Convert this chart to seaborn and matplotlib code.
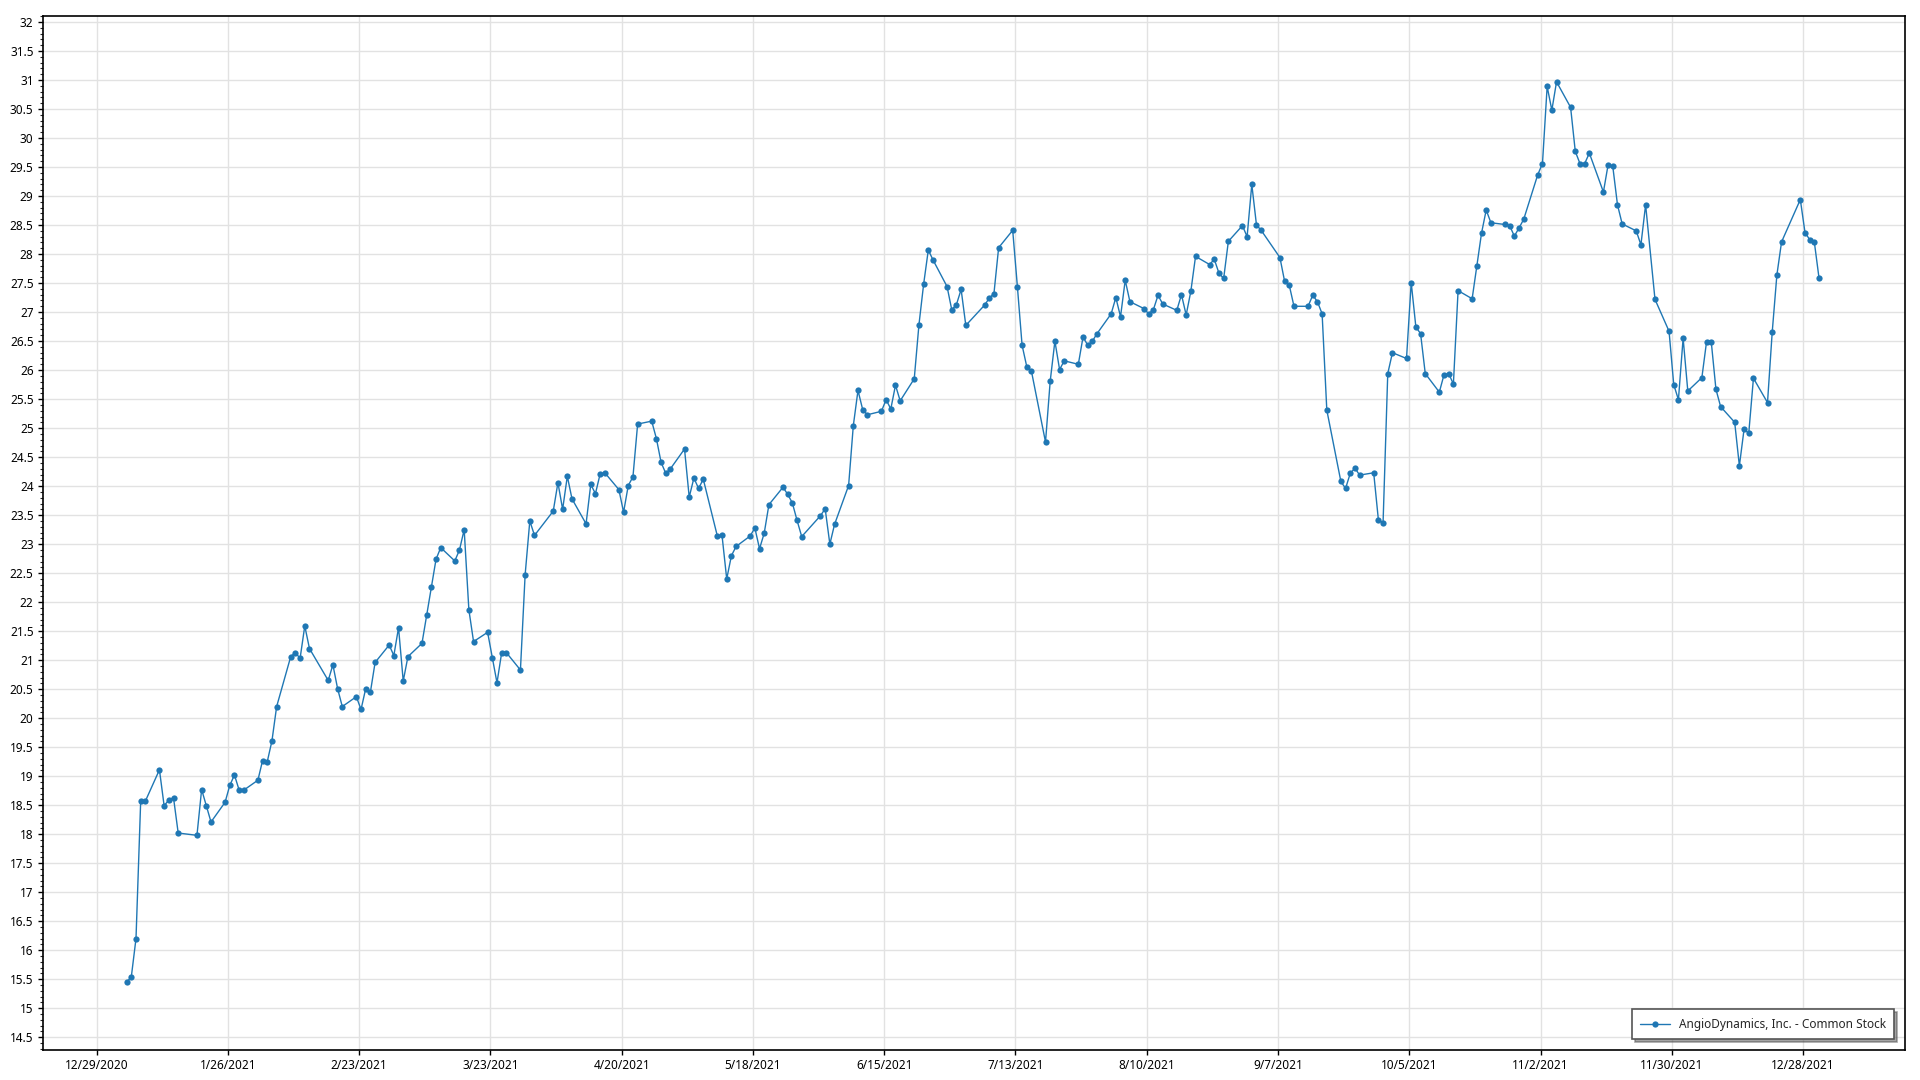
import pandas as pd
import numpy as np
import matplotlib
matplotlib.use('Agg')
import matplotlib.pyplot as plt
import matplotlib.ticker as mticker
import seaborn as sns

# closing prices per trading day, 2021
jan = [15.45, 15.54, 16.20, 18.57, 18.57, 19.11, 18.49, 18.59, 18.63, 18.02,
       17.98, 18.77, 18.49, 18.21, 18.55, 18.84, 19.02, 18.76, 18.76]
feb = [18.93, 19.27, 19.25, 19.61, 20.20, 21.06, 21.13, 21.03, 21.59, 21.20,
       20.65, 20.92, 20.51, 20.20, 20.37, 20.15, 20.51, 20.45, 20.96]
mar = [21.26, 21.08, 21.56, 20.64, 21.06, 21.29, 21.77, 22.26, 22.74, 22.94,
       22.71, 22.90, 23.25, 21.87, 21.32, 21.48, 21.04, 20.61, 21.13, 21.13,
       20.83, 22.47, 23.40]
apr = [23.15, 23.57, 24.06, 23.60, 24.17, 23.78, 23.35, 24.03, 23.87, 24.21,
       24.23, 23.94, 23.55, 24.01, 24.16, 25.07, 25.12, 24.82, 24.41, 24.22,
       24.30]
may = [24.64, 23.81, 24.14, 23.96, 24.12, 23.14, 23.15, 22.40, 22.80, 22.96,
       23.14, 23.28, 22.92, 23.19, 23.68, 23.98, 23.86, 23.71, 23.41, 23.13]
jun = [23.49, 23.61, 23.00, 23.34, 24.01, 25.04, 25.65, 25.32, 25.23, 25.29,
       25.49, 25.33, 25.74, 25.47, 25.85, 26.78, 27.48, 28.07, 27.90, 27.44,
       27.04, 27.13]
jul = [27.39, 26.77, 27.12, 27.24, 27.32, 28.11, 28.41, 27.44, 26.43, 26.06,
       25.98, 24.76, 25.81, 26.50, 26.01, 26.16, 26.10, 26.57, 26.43, 26.50,
       26.63]
aug = [26.97, 27.25, 26.92, 27.55, 27.18, 27.06, 26.97, 27.04, 27.29, 27.14,
       27.03, 27.30, 26.95, 27.36, 27.96, 27.82, 27.91, 27.67, 27.58, 28.22,
       28.49, 28.30]
sep = [29.20, 28.50, 28.41, 27.94, 27.53, 27.46, 27.10, 27.10, 27.29, 27.18,
       26.97, 25.31, 24.08, 23.96, 24.22, 24.31, 24.19, 24.23, 23.42, 23.37,
       25.94]
oct_ = [26.30, 26.20, 27.51, 26.74, 26.63, 25.94, 25.62, 25.92, 25.94, 25.76,
        27.37, 27.23, 27.79, 28.36, 28.76, 28.54, 28.51, 28.49, 28.31, 28.45,
        28.60]
nov = [29.37, 29.56, 30.89, 30.48, 30.97, 30.53, 29.77, 29.56, 29.56, 29.74,
       29.07, 29.54, 29.51, 28.85, 28.52, 28.40, 28.16, 28.85, 27.22, 26.67,
       25.75]
dec = [25.49, 26.55, 25.64, 25.87, 26.49, 26.49, 25.67, 25.37, 25.10, 24.35,
       24.98, 24.91, 25.86, 25.44, 26.65, 27.64, 28.21, 28.94, 28.37, 28.25,
       28.20, 27.58]

holidays = ['2021-01-01', '2021-01-18', '2021-02-15', '2021-04-02', '2021-05-31',
            '2021-07-05', '2021-09-06', '2021-11-25', '2021-12-24']

series_name = 'AngioDynamics, Inc. - Common Stock'
tick_dates = pd.date_range('2020-12-29', '2021-12-28', freq='28D')
tick_labels = [f'{d.month}/{d.day}/{d.year}' for d in tick_dates]

prices = jan + feb + mar + apr + may + jun + jul + aug + sep + oct_ + nov + dec
# quotes are stamped at market hours, not midnight
days = pd.bdate_range('2021-01-01', '2021-12-31', freq='C', holidays=holidays) + pd.Timedelta(hours=10)
df = pd.DataFrame({'date': days, 'close': prices})

sns.set_style('white')
plt.rcParams['font.family'] = ['Noto Sans', 'DejaVu Sans']

fig = plt.figure(figsize=(19.2, 10.8), dpi=100)
ax = fig.add_axes([0.0222, 0.0278, 0.97, 0.9577])

sns.lineplot(data=df, x='date', y='close', ax=ax, color='#1f77b4', linewidth=1,
             marker='o', markersize=4.5, markeredgewidth=0, label=series_name)

ax.set_xlim(pd.Timestamp('2020-12-17 12:00'), pd.Timestamp('2022-01-18 18:00'))
ax.set_ylim(14.28, 32.11)
ax.set_xticks(tick_dates)
ax.set_xticklabels(tick_labels)
ax.yaxis.set_major_locator(mticker.MultipleLocator(0.5))
ax.yaxis.set_minor_locator(mticker.MultipleLocator(0.1))
ax.yaxis.set_major_formatter(mticker.FuncFormatter(lambda v, p: f'{v:g}'))

ax.grid(True, which='major', color='#e2e2e2', linewidth=1)
ax.set_axisbelow(True)
ax.tick_params(axis='both', which='major', labelsize=8.5, colors='black',
               direction='out', length=3.5, width=1, pad=3)
ax.tick_params(axis='y', which='minor', direction='out', length=2, width=0.8, left=True)
ax.tick_params(axis='x', bottom=True)
ax.tick_params(axis='y', left=True)
for s in ax.spines.values():
    s.set_color('black')
    s.set_linewidth(1.2)
ax.set_xlabel('')
ax.set_ylabel('')

leg = ax.legend(loc='lower right', fancybox=False, shadow=True, fontsize=8.5,
                edgecolor='#555555', framealpha=1, borderpad=0.7,
                handlelength=2.5, bbox_to_anchor=(0.9975, 0.005))
leg.get_frame().set_linewidth(1.2)

fig.savefig('out.png', dpi=100)
